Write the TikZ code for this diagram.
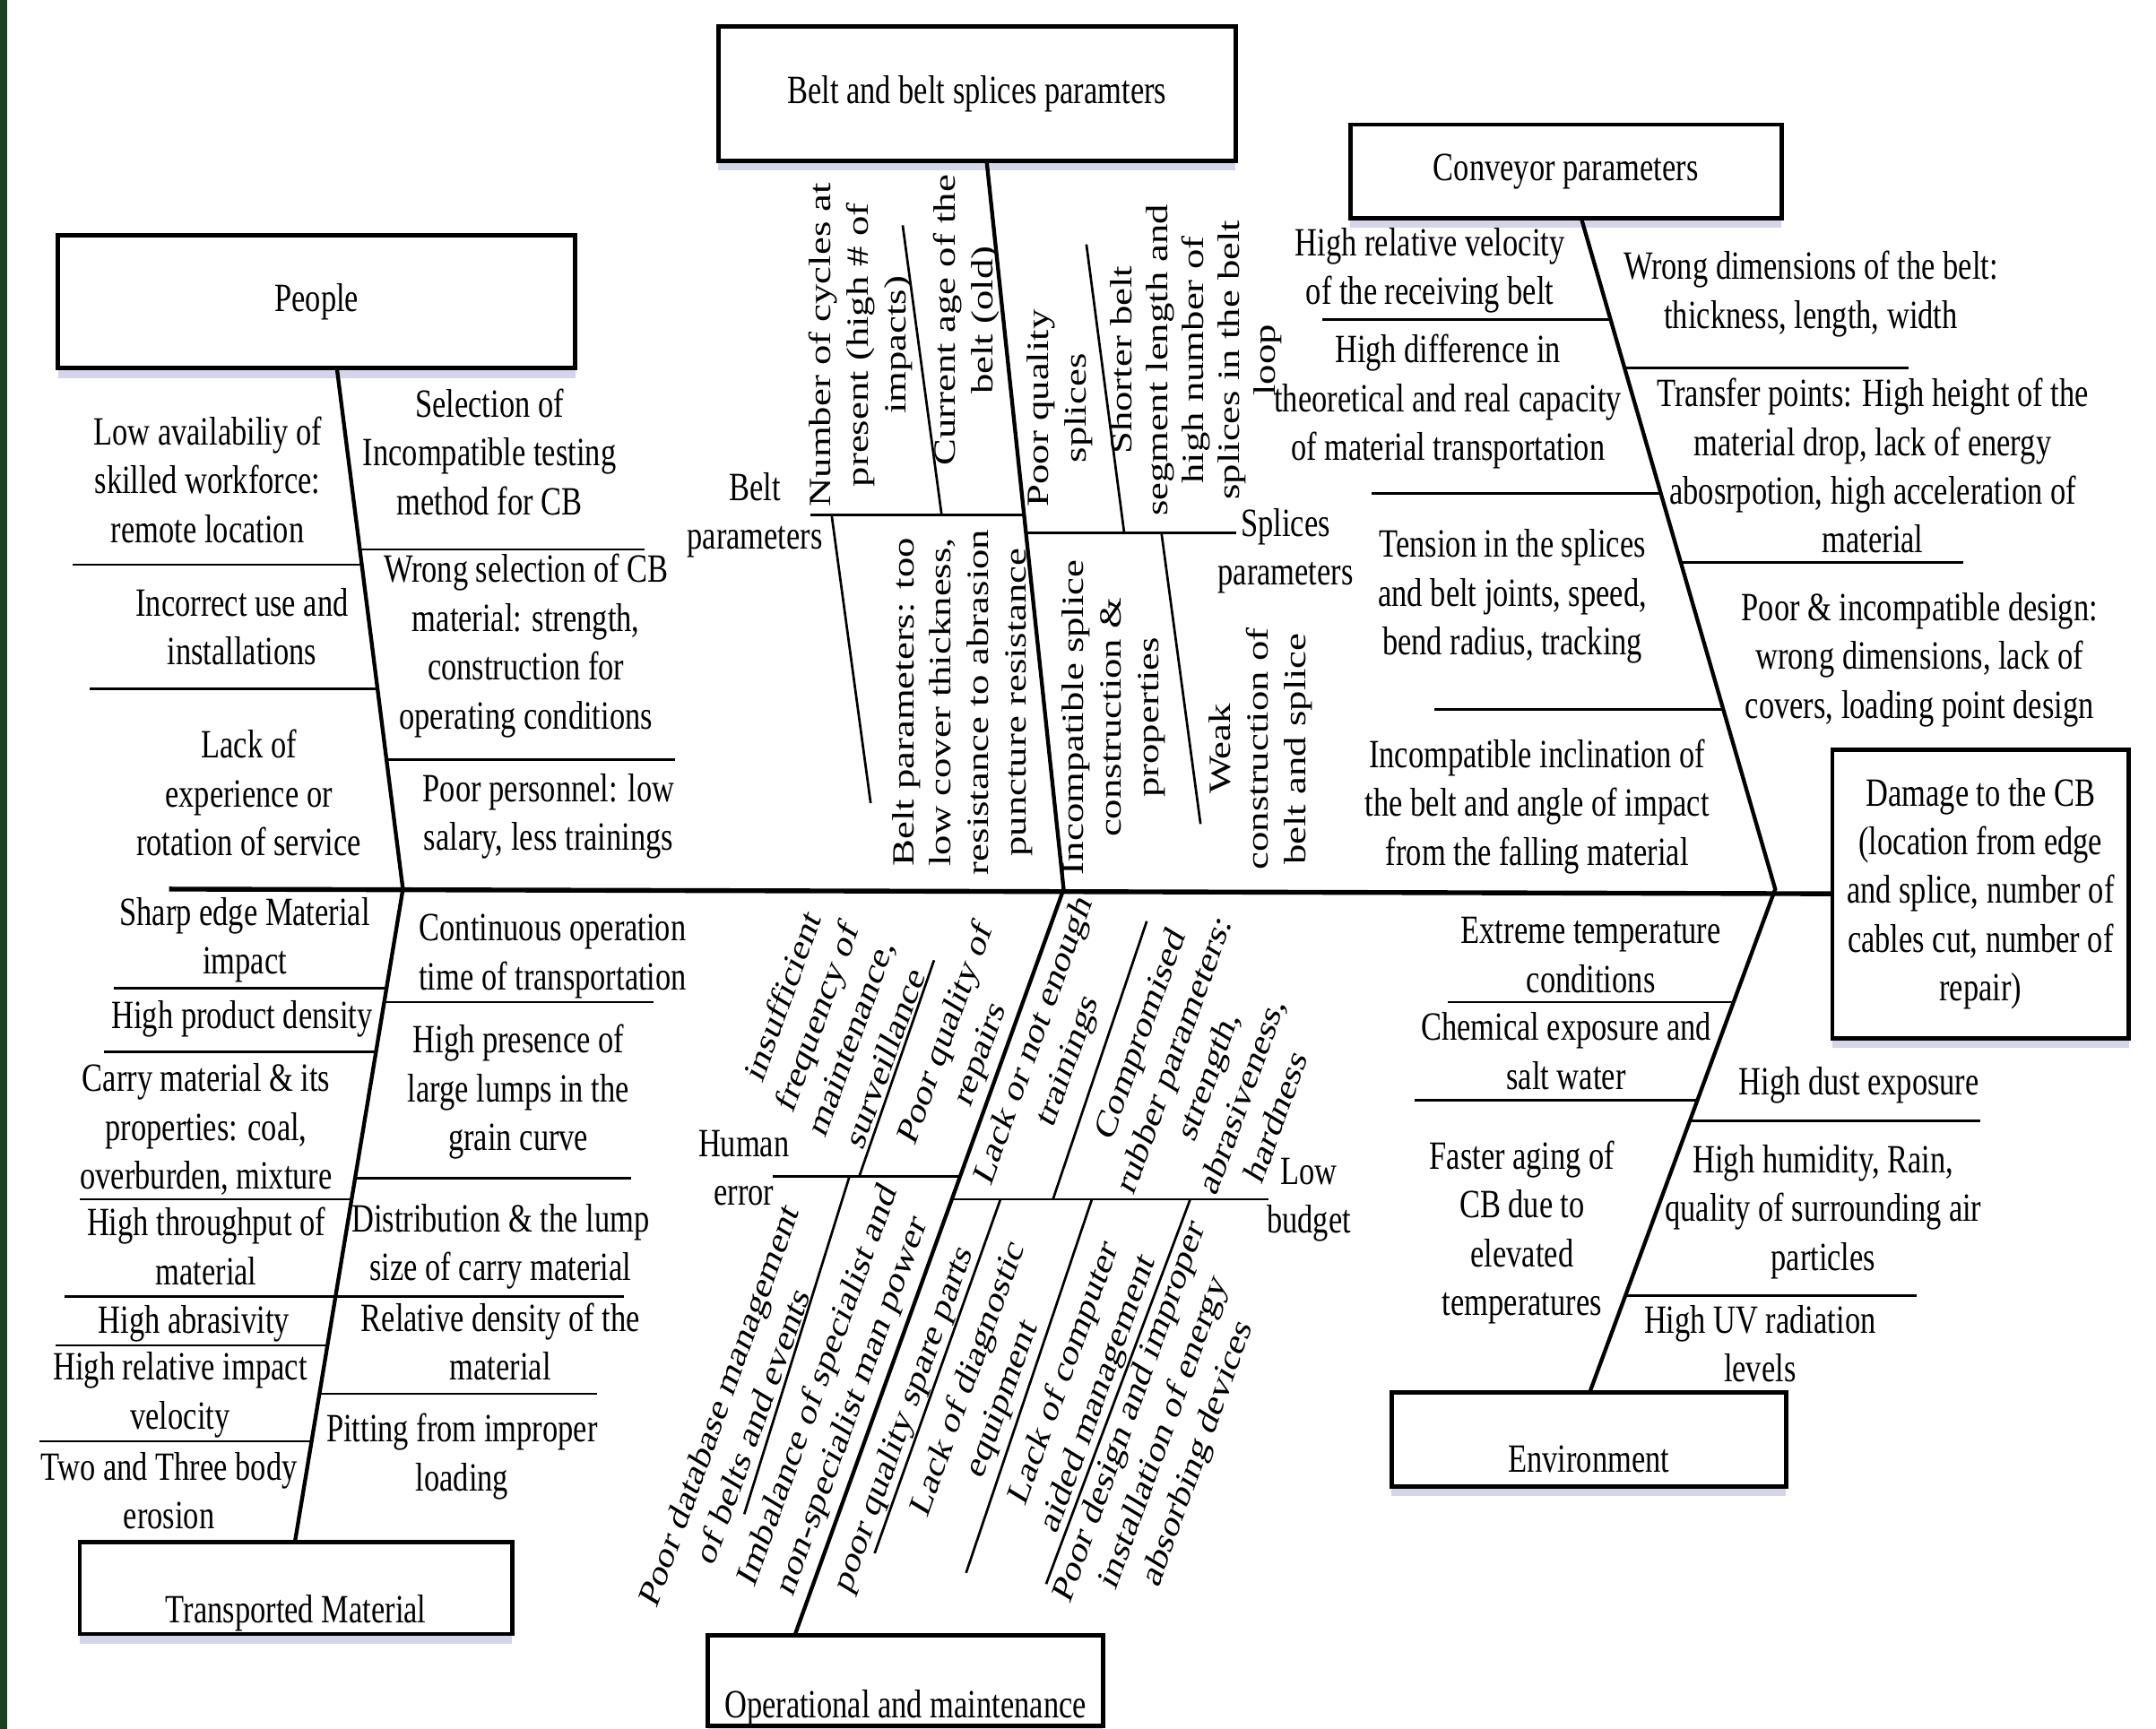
\documentclass[tikz,border=0pt]{standalone}
\usepackage{fontspec}
\setmainfont{Liberation Serif}
\usepackage{tikz}
\usetikzlibrary{calc,positioning,shadows}
\definecolor{edgegreen}{RGB}{24,66,34}

\begin{document}
\begin{tikzpicture}[x=0.012987cm, y=-0.01cm, xscale=0.77,
  every node/.style={transform shape, align=center, inner sep=1pt, font=\fontsize{8.3}{10.1}\selectfont},
  box/.style={draw, line width=0.9pt, fill=white, inner sep=0pt,
    drop shadow={shadow xshift=0pt, shadow yshift=-2pt, opacity=0.25, fill=blue!35!gray}},
  spine/.style={line width=1pt},
  bone/.style={line width=0.8pt},
  twig/.style={line width=0.5pt},
  vtext/.style={rotate=90},
  stext/.style={rotate=65}]

\useasboundingbox (0,0) rectangle (1568,1258);
\fill[edgegreen] (0,0) rectangle (5,1258);

\node[box, minimum width=4.883cm, minimum height=0.97cm] (people) at (230.3,219.5) {People};
\node[box, minimum width=4.883cm, minimum height=0.98cm] (belt) at (710.5,68) {Belt and belt splices paramters};
\node[box, minimum width=4.073cm, minimum height=0.68cm] (conveyor) at (1138.8,124.7) {Conveyor parameters};
\node[box, minimum width=4.084cm, minimum height=0.67cm, text height=14.6pt, text depth=0pt] (material) at (215.3,1155.5) {Transported Material};
\node[box, minimum width=3.727cm, minimum height=0.66cm, text height=15.4pt, text depth=0pt] (operation) at (658.5,1223) {Operational and maintenance};
\node[box, minimum width=3.725cm, minimum height=0.68cm, text height=13.4pt, text depth=0pt] (environment) at (1155.4,1047.5) {Environment};
\node[box, minimum width=2.8cm, minimum height=2.1cm] (damage) at (1440.4,650.4) {Damage to the CB\\(location from edge\\and splice, number of\\cables cut, number of\\repair)};

\coordinate (tail) at (123,647);
\coordinate (pb) at (245,268);
\coordinate (j1) at (293,647);
\coordinate (tb) at (214.5,1122);
\coordinate (bb) at (717.5,117);
\coordinate (j2) at (773.5,647);
\coordinate (ob) at (578,1190);
\coordinate (cb) at (1150,159);
\coordinate (j3) at (1291,647);
\coordinate (eb) at (1156,1013.5);

\draw[spine] (tail) -- (damage.west);
\draw[bone] (pb) -- (j1) -- (tb);
\draw[bone] (bb) -- (j2) -- (ob);
\draw[bone] (cb) -- (j3) -- (eb);

\draw[twig] ($(pb)!0.377!(j1)$) -- ++(-210,0);
\draw[twig] ($(pb)!0.615!(j1)$) -- ++(-209.5,0);
\draw[twig] ($(pb)!0.348!(j1)$) -- ++(207,0);
\draw[twig] ($(pb)!0.752!(j1)$) -- ++(209.5,0);

\draw[twig] ($(j1)!0.152!(tb)$) -- ++(-198,0);
\draw[twig] ($(j1)!0.249!(tb)$) -- ++(-198,0);
\draw[twig] ($(j1)!0.475!(tb)$) -- ++(-198,0);
\draw[twig] ($(j1)!0.624!(tb)$) -- ++(-197,0);
\draw[twig] ($(j1)!0.699!(tb)$) -- ++(-198,0);
\draw[twig] ($(j1)!0.846!(tb)$) -- ++(-198,0);
\draw[twig] ($(j1)!0.173!(tb)$) -- ++(196,0);
\draw[twig] ($(j1)!0.443!(tb)$) -- ++(201,0);
\draw[twig] ($(j1)!0.624!(tb)$) -- ++(210,0);
\draw[twig] ($(j1)!0.773!(tb)$) -- ++(202,0);

\coordinate (bp) at ($(bb)!0.486!(j2)$);
\coordinate (sp) at ($(bb)!0.511!(j2)$);
\draw[twig] (bp) -- ++(-155.7,0);
\draw[twig] (sp) -- ++(152.6,0);
\draw[twig] ($(bp)+(-60,0)$) -- ++(-28.3,-210.6);
\draw[twig] ($(bp)+(-140,0)$) -- ++(28.4,209.9);
\draw[twig] ($(sp)+(71.4,0)$) -- ++(-27.5,-210);
\draw[twig] ($(sp)+(98.5,0)$) -- ++(28.4,211.8);

\draw[twig] ($(cb)!0.151!(j3)$) -- ++(-210,0);
\draw[twig] ($(cb)!0.410!(j3)$) -- ++(-210.6,0);
\draw[twig] ($(cb)!0.732!(j3)$) -- ++(-210.4,0);
\draw[twig] ($(cb)!0.223!(j3)$) -- ++(206.7,0);
\draw[twig] ($(cb)!0.513!(j3)$) -- ++(205.7,0);

\draw[twig] ($(j3)!0.2246!(eb)$) -- ++(-208,0);
\draw[twig] ($(j3)!0.4191!(eb)$) -- ++(-205.6,0);
\draw[twig] ($(j3)!0.460!(eb)$) -- ++(211,0);
\draw[twig] ($(j3)!0.8076!(eb)$) -- ++(212,0);

\coordinate (he) at ($(j2)!0.385!(ob)$);
\coordinate (lb) at ($(j2)!0.4157!(ob)$);
\draw[twig] (he) -- ++(-136,0);
\draw[twig] (lb) -- ++(230.3,0);
\draw[twig] ($(he)+(-73.4,0)$) -- ++(54.4,-157.3);
\draw[twig] ($(he)+(-80.5,0)$) -- ++(-76.5,245.8);
\draw[twig] ($(lb)+(73.5,0)$) -- ++(68.2,-202.4);
\draw[twig] ($(lb)+(35.3,0)$) -- ++(-91.5,257.6);
\draw[twig] ($(lb)+(101.8,0)$) -- ++(-91.5,271.9);
\draw[twig] ($(lb)+(173.3,0)$) -- ++(-104.8,280);

\node (p1) at (151,349) {Low availabiliy of\\skilled workforce:\\remote location};
\node (p2) at (176,456) {Incorrect use and\\installations};
\node (p3) at (181,577) {Lack of\\experience or\\rotation of service};
\node (p4) at (356,329) {Selection of\\Incompatible testing\\method for CB};
\node (p5) at (382.5,470) {Wrong selection of CB\\material: strength,\\construction for\\operating conditions};
\node (p6) at (399,594) {Poor personnel: low\\salary, less trainings};

\node (m1) at (178,684) {Sharp edge Material\\impact};
\node (m2) at (176,741.5) {High product density};
\node (m3) at (150,822) {Carry material \& its\\properties: coal,\\overburden, mixture};
\node (m4) at (150,907) {High throughput of\\material};
\node (m5) at (141,963) {High abrasivity};
\node (m6) at (131,1015) {High relative impact\\velocity};
\node (m7) at (123,1085) {Two and Three body\\erosion};
\node (m8) at (402,696) {Continuous operation\\time of transportation};
\node (m9) at (377,794.5) {High presence of\\large lumps in the\\grain curve};
\node (m10) at (364,907) {Distribution \& the lump\\size of carry material};
\node (m11) at (364,976.5) {Relative density of the\\material};
\node (m12) at (336,1060) {Pitting from improper\\loading};

\node (bl) at (549,375) {Belt\\parameters};
\node (sl) at (935,401) {Splices\\parameters};
\node[vtext] (b1) at (626,251) {Number of cycles at\\present (high \# of\\impacts)};
\node[vtext] (b2) at (703,233) {Current age of the\\belt (old)};
\node[vtext] (b3) at (771,297) {Poor quality\\splices};
\node[vtext, font=\fontsize{8.3}{9.6}\selectfont] (b4) at (870,262) {Shorter belt\\segment length and\\high number of\\splices in the belt\\loop};
\node[vtext] (b5) at (700,511) {Belt parameters: too\\low cover thickness,\\resistance to abrasion\\puncture resistance};
\node[vtext] (b6) at (810,522) {Incompatible splice\\construction \&\\properties};
\node[vtext] (b7) at (917,545) {Weak\\construction of\\belt and splice};

\node (c1) at (1040,197) {High relative velocity\\of the receiving belt};
\node (c2) at (1053,292.5) {High difference in\\theoretical and real capacity\\of material transportation};
\node (c3) at (1100,434) {Tension in the splices\\and belt joints, speed,\\bend radius, tracking};
\node (c4) at (1118,587) {Incompatible inclination of\\the belt and angle of impact\\from the falling material};
\node (c5) at (1317,214) {Wrong dimensions of the belt:\\thickness, length, width};
\node (c6) at (1362,339) {Transfer points: High height of the\\material drop, lack of energy\\abosrpotion, high acceleration of\\material};
\node (c7) at (1396,480) {Poor \& incompatible design:\\wrong dimensions, lack of\\covers, loading point design};

\node (e1) at (1157,695) {Extreme temperature\\conditions};
\node (e2) at (1139,765) {Chemical exposure and\\salt water};
\node (e3) at (1107,897) {Faster aging of\\CB due to\\elevated\\temperatures};
\node (e4) at (1352,790) {High dust exposure};
\node (e5) at (1326,882) {High humidity, Rain,\\quality of surrounding air\\particles};
\node (e6) at (1280,978) {High UV radiation\\levels};

\node (hl) at (541,850) {Human\\error};
\node (ll) at (952,873) {Low\\budget};
\node[stext] (o1) at (606,747) {insufficient\\frequency of\\maintenance,\\surveillance};
\node[stext] (o2) at (701,760) {Poor quality of\\repairs};
\node[stext] (o3) at (765,765) {Lack or not enough\\trainings};
\node[stext] (o4) at (878,782) {Compromised\\rubber parameters:\\strength,\\abrasiveness,\\hardness};
\node[stext] (o5) at (535,1030) {Poor database management\\of belts and events};
\node[stext] (o6) at (608,1016) {Imbalance of specialist and\\non-specialist man power};
\node[stext] (o7) at (658,1033) {poor quality spare parts};
\node[stext] (o8) at (717,1011) {Lack of diagnostic\\equipment};
\node[stext] (o9) at (787,1007) {Lack of computer\\aided management};
\node[stext] (o10) at (847,1043) {Poor design and improper\\installation of energy\\absorbing devices};
\end{tikzpicture}
\end{document}
